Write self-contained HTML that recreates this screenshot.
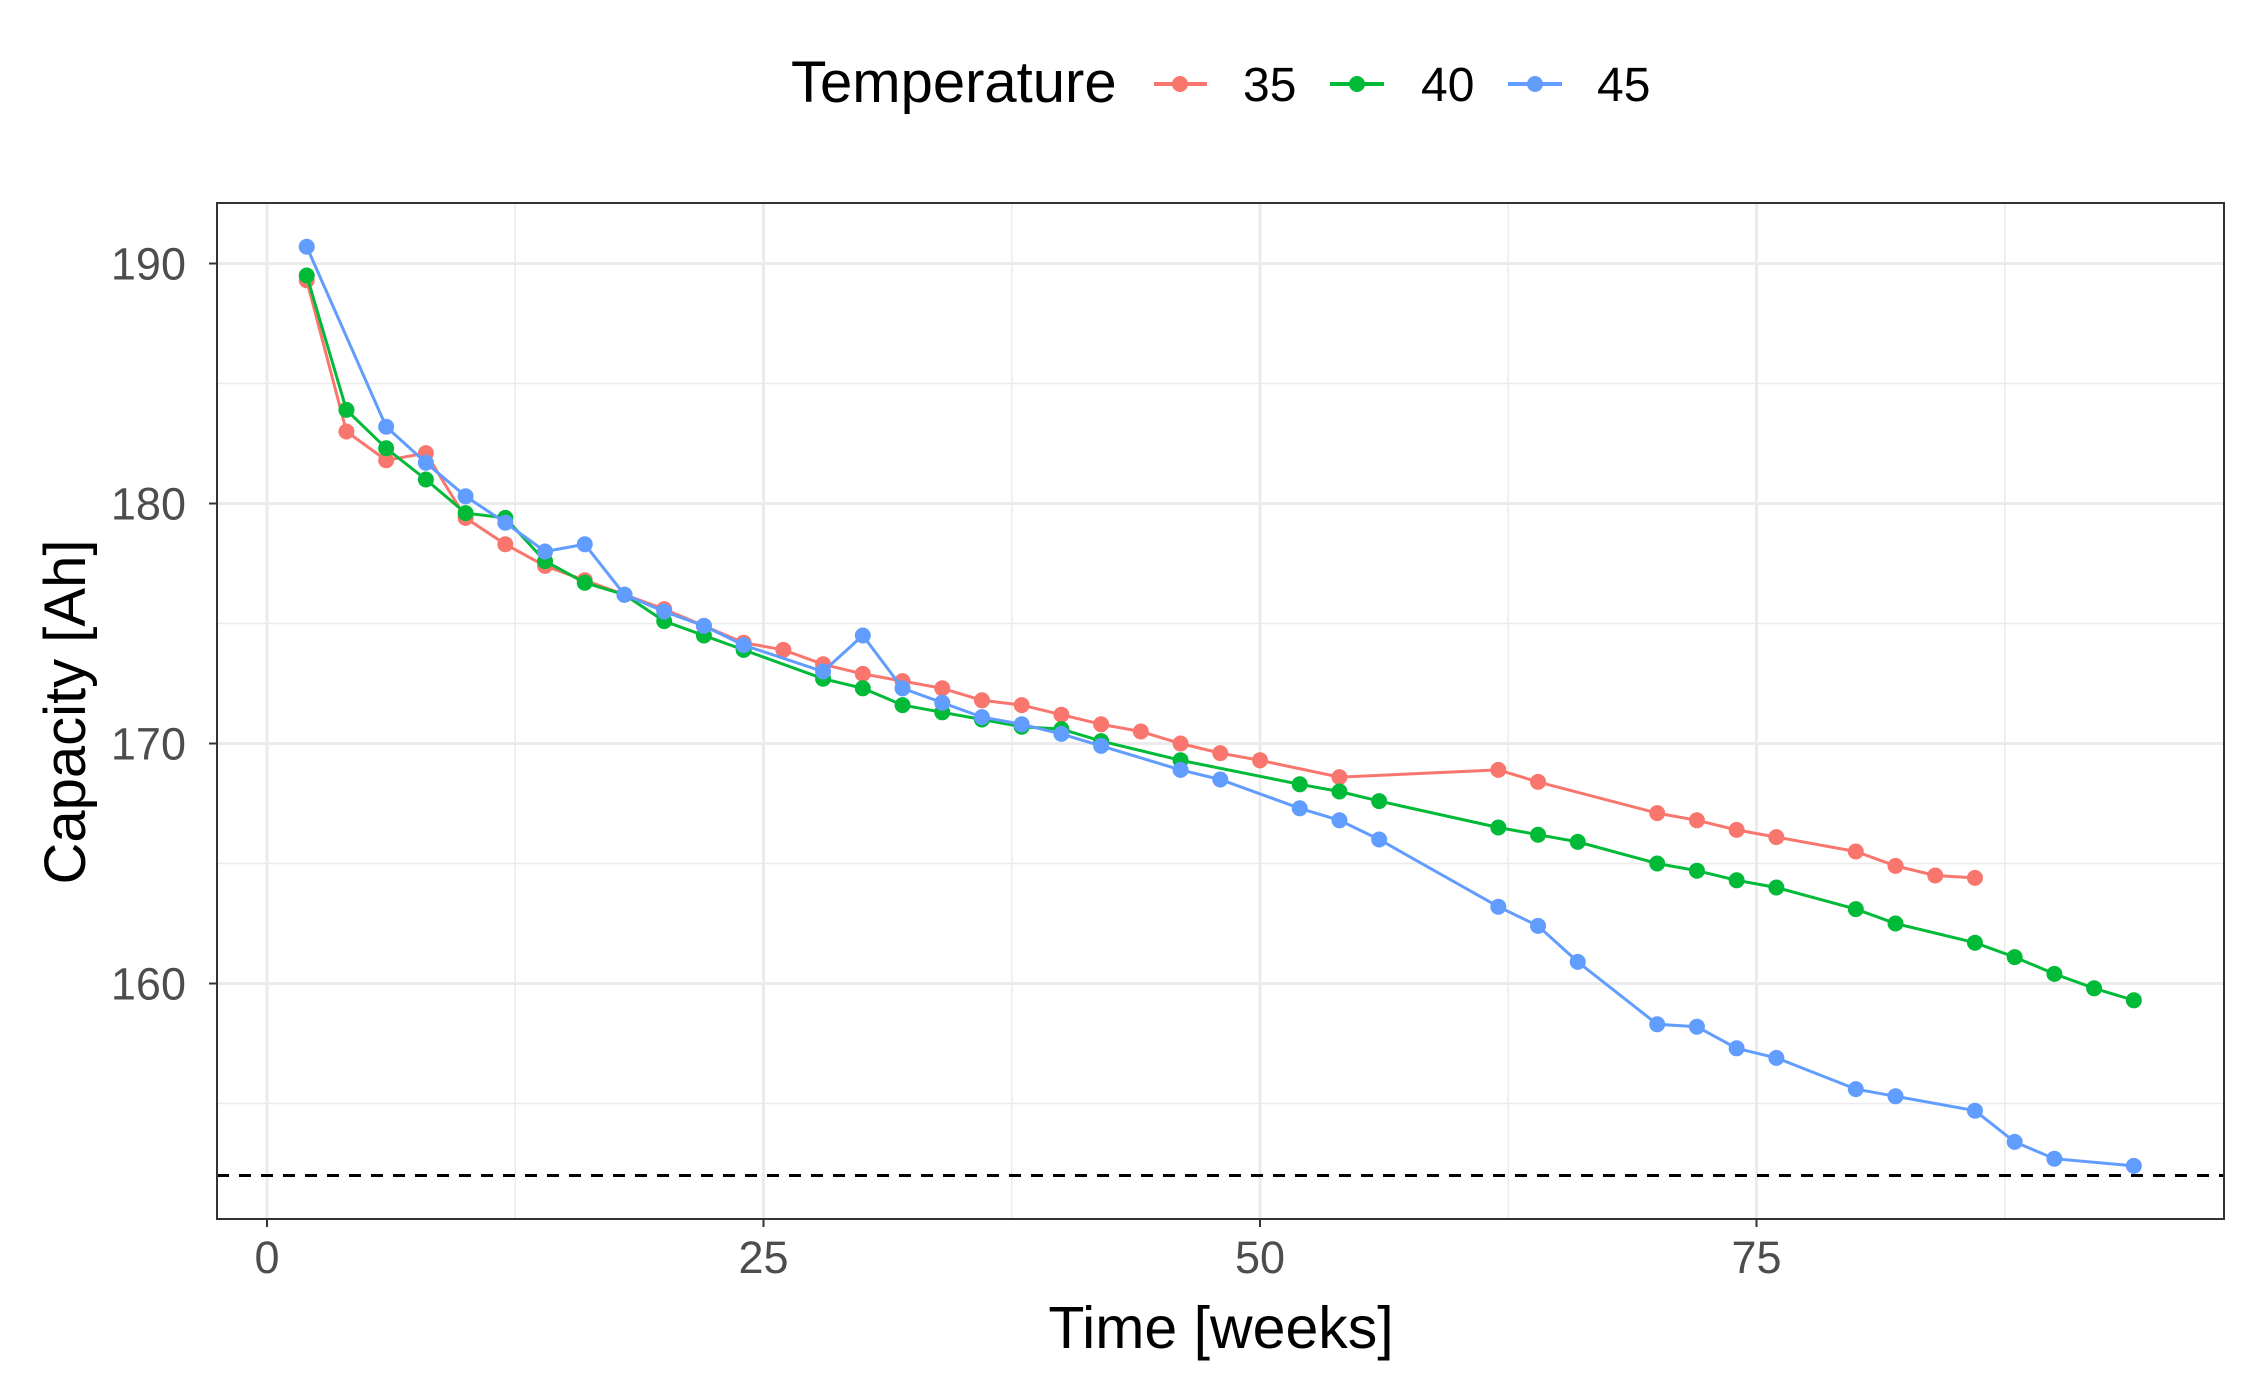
<!DOCTYPE html>
<html><head><meta charset="utf-8"><style>
html,body{margin:0;padding:0;background:#fff}
svg{display:block;font-family:"Liberation Sans",Arial,sans-serif}
</style></head><body>
<svg id="chart" width="2264" height="1397" viewBox="0 0 2264 1397" xmlns="http://www.w3.org/2000/svg">
<g id="grid"></g>
<g id="series"></g>
<rect x="217" y="203" width="2007" height="1016" fill="none" stroke="#333" stroke-width="2"/>
<g id="axes"></g>
<text x="1221" y="1348" font-size="59" text-anchor="middle" fill="#000">Time [weeks]</text>
<text x="0" y="0" font-size="58" text-anchor="middle" fill="#000" transform="translate(85,712) rotate(-90)">Capacity [Ah]</text>
<g>
<text x="791" y="102" font-size="58" fill="#000">Temperature</text>
<g><line x1="1154" y1="84" x2="1207" y2="84" stroke="#F8766D" stroke-width="4"/><circle cx="1180" cy="84" r="8" fill="#F8766D"/><text x="1243" y="101" font-size="48">35</text></g>
<g><line x1="1330" y1="84" x2="1384" y2="84" stroke="#00BA38" stroke-width="4"/><circle cx="1357" cy="84" r="8" fill="#00BA38"/><text x="1421" y="101" font-size="48">40</text></g>
<g><line x1="1508" y1="84" x2="1562" y2="84" stroke="#619CFF" stroke-width="4"/><circle cx="1535" cy="84" r="8" fill="#619CFF"/><text x="1597" y="101" font-size="48">45</text></g>
</g>
</svg>
<script>
const t35=[2,4,6,8,10,12,14,16,18,20,22,24,26,28,30,32,34,36,38,40,42,44,46,48,50,54,62,64,70,72,74,76,80,82,84,86];
const c35=[189.3,183.0,181.8,182.1,179.4,178.3,177.4,176.8,176.2,175.6,174.9,174.2,173.9,173.3,172.9,172.6,172.3,171.8,171.6,171.2,170.8,170.5,170.0,169.6,169.3,168.6,168.9,168.4,167.1,166.8,166.4,166.1,165.5,164.9,164.5,164.4];
const t40=[2,4,6,8,10,12,14,16,18,20,22,24,28,30,32,34,36,38,40,42,46,52,54,56,62,64,66,70,72,74,76,80,82,86,88,90,92,94];
const c40=[189.5,183.9,182.3,181.0,179.6,179.4,177.6,176.7,176.2,175.1,174.5,173.9,172.7,172.3,171.6,171.3,171.0,170.7,170.6,170.1,169.3,168.3,168.0,167.6,166.5,166.2,165.9,165.0,164.7,164.3,164.0,163.1,162.5,161.7,161.1,160.4,159.8,159.3];
const t45=[2,6,8,10,12,14,16,18,20,22,24,28,30,32,34,36,38,40,42,46,48,52,54,56,62,64,66,70,72,74,76,80,82,86,88,90,94];
const c45=[190.7,183.2,181.7,180.3,179.2,178.0,178.3,176.2,175.5,174.9,174.1,173.0,174.5,172.3,171.7,171.1,170.8,170.4,169.9,168.9,168.5,167.3,166.8,166.0,163.2,162.4,160.9,158.3,158.2,157.3,156.9,155.6,155.3,154.7,153.4,152.7,152.4];
const xTicks=[0,25,50,75];
const xMinor=[12.5,37.5,62.5,87.5];
const yTicks=[160,170,180,190];
const yMinor=[155,165,175,185];
const threshold=152;

const NS="http://www.w3.org/2000/svg";
const X=v=>267+v*19.86;
const Y=v=>263.5+(190-v)*24.0;
const L=217,R=2224,T=203,B=1219;
function mk(tag,attrs,parent){const e=document.createElementNS(NS,tag);for(const k in attrs)e.setAttribute(k,attrs[k]);parent.appendChild(e);return e;}
const grid=document.getElementById('grid'),axes=document.getElementById('axes'),ser=document.getElementById('series');
yMinor.forEach(v=>{const e=mk('line',{x1:L,x2:R,y1:Y(v),y2:Y(v),stroke:'#ebebeb','stroke-width':1.5},grid);

});
xMinor.forEach(v=>{const e=mk('line',{x1:X(v),x2:X(v),y1:T,y2:B,stroke:'#ebebeb','stroke-width':1.5},grid);

});
yTicks.forEach(v=>{const e=mk('line',{x1:L,x2:R,y1:Y(v),y2:Y(v),stroke:'#ebebeb','stroke-width':3},grid);


const tk=mk('line',{x1:L-8,x2:L,y1:Y(v),y2:Y(v),stroke:'#333','stroke-width':2},axes);


const tx=mk('text',{x:186,y:Y(v)+16,'font-size':45,'text-anchor':'end',fill:'#4d4d4d'},axes);tx.textContent=v;

});
xTicks.forEach(v=>{const e=mk('line',{x1:X(v),x2:X(v),y1:T,y2:B,stroke:'#ebebeb','stroke-width':3},grid);


const tk=mk('line',{x1:X(v),x2:X(v),y1:B,y2:B+8,stroke:'#333','stroke-width':2},axes);


const tx=mk('text',{x:X(v),y:B+54,'font-size':45,'text-anchor':'middle',fill:'#4d4d4d'},axes);tx.textContent=v;

});
const th=mk('line',{x1:L,x2:R,y1:Y(threshold),y2:Y(threshold),stroke:'#000','stroke-width':3,'stroke-dasharray':'12 10'},ser);


[[t35,c35,'#F8766D','35'],[t40,c40,'#00BA38','40'],[t45,c45,'#619CFF','45']].forEach(([ts,cs,col,nm])=>{
const g=mk('g',{},ser);


const p=mk('polyline',{points:ts.map((t,i)=>X(t)+','+Y(cs[i])).join(' '),fill:'none',stroke:col,'stroke-width':3},g);


ts.forEach((t,i)=>{const c=mk('circle',{cx:X(t),cy:Y(cs[i]),r:8,fill:col},g);

});
});
</script>
</body></html>
